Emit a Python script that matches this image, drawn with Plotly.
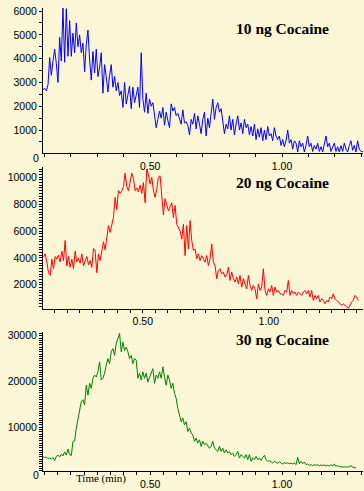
import numpy as np
import plotly.graph_objects as go

# ---------------- data (intensity vs. time, uniform scan interval) ----------------
# Panel 1: 10 ng cocaine
t0_10ng, dt_10ng = 0.094, 0.00631
i_10ng = [
    2700, 2750, 2650, 2900, 4050, 3300, 3900, 4400, 3800, 3000,
    4900, 3900, 6150, 3850, 6100, 4100, 5600, 4100, 5070, 4250,
    5500, 4500, 5000, 4250, 4650, 3450, 4600, 5200, 3950, 3100,
    4300, 3400, 4400, 3250, 3650, 4250, 2550, 3750, 3250, 2600,
    3300, 3750, 2800, 3250, 2650, 3000, 2450, 2650, 1950, 3000,
    2100, 2550, 2850, 1900, 2800, 2150, 2500, 2800, 1950, 4250,
    2300, 1750, 2550, 1700, 2300, 2000, 2150, 1600, 1100, 1450,
    1800, 1500, 1950, 1200, 1750, 1400, 1100, 2100, 1800, 1950,
    1600, 1700, 1450, 1250,
    1850, 1300, 1350, 1200, 800, 1450, 1250, 1700, 1050, 1600,
    1250, 850, 1450, 1750, 750, 1500, 1100, 1850, 2300, 1450,
    1950, 2150, 1750, 1900, 1300, 850, 1250, 1050, 1600, 1000,
    1450, 800, 1250, 1600, 1000, 1300, 850, 1450, 1100, 1250,
    800, 1150, 750, 1250, 600, 1050, 700, 1100, 550, 1000,
    600, 1150, 750, 850, 550, 1100, 750, 600, 750, 350,
    600, 300, 550, 1000, 450, 600, 200, 550, 450, 80,
    550, 300, 450, 80, 350, 750, 300, 450, 100, 350,
    200, 450, 100, 300, 80, 450, 750, 300, 450, 100,
    300, 450, 100, 300, 80, 350, 100, 450, 200, 80,
    350, 550, 150, 350, 80, 550, 200, 100, 100,
]

# Panel 2: 20 ng cocaine
t0_20ng, dt_20ng = 0.106, 0.00661
i_20ng = [
    4050, 4300, 3700, 2900, 2700, 3900, 3200, 4100, 3900, 4200,
    3700, 4500, 3800, 5300, 3400, 4100, 3300, 3900, 3200, 4500,
    3700, 4000, 3600, 4300, 3400, 3800, 4100, 3500, 3800, 3300,
    4700, 4500, 2900, 4300, 3800, 4500, 5200, 4600, 5600, 6400,
    5900, 6600, 7000, 8500, 7600, 9000, 8800, 9000, 9300, 10300,
    9300, 9000, 9600, 10300, 9900, 9000, 9200, 8900, 9400, 8800,
    9600, 8100, 10600, 10200, 9500, 10000, 9000, 8500, 9100, 10000,
    10100, 8500, 7200, 8400, 7900, 7500, 7800, 8100, 7000, 7900,
    6500, 6300, 6000, 5400,
    6500, 4170, 6400, 4670, 6770, 5300, 4550, 4670, 3930, 4300,
    3800, 4170, 3930, 3680, 4170, 3430, 3930, 5040, 3680, 3430,
    2450, 3060, 3190, 2820, 2940, 2570, 2690, 3310, 2320, 2940,
    2450, 2200, 2570, 2070, 2690, 1830, 2450, 2070, 1700, 2690,
    1950, 1580, 1950, 1700, 960, 2070, 1580, 1830, 3190, 1580,
    1210, 1700, 1460, 1950, 1210, 1830, 1460, 1580, 1330, 1330,
    1210, 1580, 1460, 2320, 1210, 1580, 1330, 1460, 1210, 1460,
    1330, 1210, 1460, 1580, 1330, 1580, 1090, 1580, 840, 1210,
    960, 1210, 720, 960, 840, 590, 840, 720, 1090, 960,
    1330, 960, 840, 720, 590, 470, 590, 470, 350, 240,
    470, 720, 840, 1210, 1090, 840,
]

# Panel 3: 30 ng cocaine
t0_30ng, dt_30ng = 0.094, 0.00631
i_30ng = [
    3600, 3300, 3500, 3100, 3300, 3000, 3400, 2700, 3600, 3900,
    3500, 4100, 3700, 4600, 3900, 5200, 4000, 3800, 6900, 7000,
    9800, 12000, 13400, 15600, 16000, 14900, 19200, 17000, 19600, 18500,
    20700, 21400, 21000, 22100, 24300, 20300, 20700, 21800, 23600, 25000,
    23900, 26500, 27200, 25700, 28300, 29400, 30500, 26500, 28600, 26800,
    27500, 26500, 25000, 25700, 23900, 25000, 24650, 20700, 21800, 20300,
    22100, 20700, 21800, 19900, 21000, 21800, 22800, 19600, 21400, 20700,
    22100, 20700, 23200, 21000, 19200, 21400, 20300, 18500, 19600, 17400,
    16300, 14100, 12300, 11200,
    12000, 10500, 11200, 9060, 9800, 8700, 8300, 6900, 7600, 6500,
    7250, 5800, 6900, 6160, 6500, 5800, 5400, 5800, 6900, 5400,
    5080, 4710, 5800, 4710, 5400, 4350, 5080, 4350, 4710, 4000,
    4350, 3600, 4000, 4710, 3260, 4000, 3600, 3260, 4000, 2900,
    4000, 2540, 3260, 2900, 3600, 2900, 3260, 2700, 3400, 3840,
    2900, 2540, 2700, 2400, 2200, 2540, 2300, 2100, 2400, 2200,
    1960, 2200, 2100, 2200, 2000, 2100, 1960, 2200, 1800, 3400,
    2000, 2540, 2000, 2400, 1800, 1960, 1670, 1800, 1600, 1800,
    1670, 1800, 1520, 1740, 1600, 1740, 1520, 1670, 1520, 1800,
    1520, 1960, 1450, 1670, 1300, 1450, 1230, 1380, 1230, 1380,
    1230, 1670, 1230, 1090, 1230,
]

titles = ["10 ng Cocaine", "20 ng Cocaine", "30 ng Cocaine"]
x_tick_vals = [0.5, 1.0]
x_tick_text = ["0.50", "1.00"]
y1_ticks = [1000, 2000, 3000, 4000, 5000, 6000]
y2_ticks = [2000, 4000, 6000, 8000, 10000]
y3_ticks = [10000, 20000, 30000]
x_label = "Time (min)"

# ---------------- figure ----------------
BG = "#FAF6D6"
TICKFONT = dict(family="Liberation Sans, Arial, sans-serif", size=10.5, color="black")
TITLEFONT = dict(family="Liberation Serif, Times New Roman, serif", size=15.5, color="black")

def times(t0, dt, vals):
    return t0 + dt * np.arange(len(vals))

fig = go.Figure()
series = [(t0_10ng, dt_10ng, i_10ng, "#0000FF"),
          (t0_20ng, dt_20ng, i_20ng, "#FF0000"),
          (t0_30ng, dt_30ng, i_30ng, "#008000")]
for k, (t0, dt, vals, col) in enumerate(series, start=1):
    fig.add_trace(go.Scatter(
        x=times(t0, dt, vals), y=vals, mode="lines",
        line=dict(color=col, width=1), xaxis=f"x{k}" if k > 1 else "x",
        yaxis=f"y{k}" if k > 1 else "y", hoverinfo="skip", showlegend=False))

def xaxis(rng, anchor, minor_dt):
    return dict(range=rng, anchor=anchor, domain=[0, 1], showgrid=False, zeroline=False,
                showline=True, linecolor="black", linewidth=1,
                tickmode="array", tickvals=x_tick_vals, ticktext=x_tick_text,
                ticks="outside", ticklen=3, tickwidth=1, tickcolor="black",
                minor=dict(tickmode="linear", tick0=0, dtick=minor_dt, ticks="outside",
                           ticklen=3, tickwidth=1, tickcolor="black", showgrid=False),
                tickfont=TICKFONT, fixedrange=True)

def yaxis(rng, anchor, dom, tv, minor_dt):
    return dict(range=rng, anchor=anchor, domain=dom, showgrid=False, zeroline=False,
                showline=True, linecolor="black", linewidth=1,
                tickmode="array", tickvals=tv, ticktext=[str(v) for v in tv],
                ticks="outside", ticklen=3, tickwidth=1, tickcolor="black",
                minor=dict(tickmode="linear", tick0=0, dtick=minor_dt, ticks="outside",
                           ticklen=3, tickwidth=1, tickcolor="black", showgrid=False),
                tickfont=TICKFONT, fixedrange=True)

fig.update_layout(
    width=364, height=491,
    margin=dict(l=43, r=1, t=8, b=18),
    paper_bgcolor=BG, plot_bgcolor=BG,
    showlegend=False, hovermode=False,
    xaxis=xaxis([0.094, 1.307], "y", 0.1),
    yaxis=yaxis([20, 6130], "x", [0.686, 1.0], y1_ticks, 500),
    xaxis2=xaxis([0.104, 1.374], "y2", 0.05),
    yaxis2=yaxis([220, 10740], "x2", [0.3505, 0.656], y2_ticks, 200),
    xaxis3=xaxis([0.094, 1.307], "y3", 0.05),
    yaxis3=yaxis([420, 30900], "x3", [0.0, 0.301], y3_ticks, 500),
)

ann = []
for title, ypos in zip(titles, [0.955, 0.624, 0.284]):
    ann.append(dict(text=f"<b>{title}</b>", xref="paper", yref="paper", x=0.748, y=ypos,
                    showarrow=False, font=TITLEFONT, xanchor="center", yanchor="middle"))
for ypos in [0.675, -0.008]:
    ann.append(dict(text="0", xref="paper", yref="paper", x=-0.0234, y=ypos,
                    showarrow=False, font=TICKFONT, xanchor="center", yanchor="middle"))
ann.append(dict(text=x_label, xref="paper", yref="paper", x=0.182, y=-0.017,
                showarrow=False, xanchor="center", yanchor="middle",
                font=dict(family="Liberation Serif, Times New Roman, serif", size=11, color="black")))
fig.update_layout(annotations=ann)

fig.write_html("out.html", config={"displayModeBar": False, "staticPlot": True},
               post_script="document.body.style.margin='0';document.body.style.background='" + BG + "';")
